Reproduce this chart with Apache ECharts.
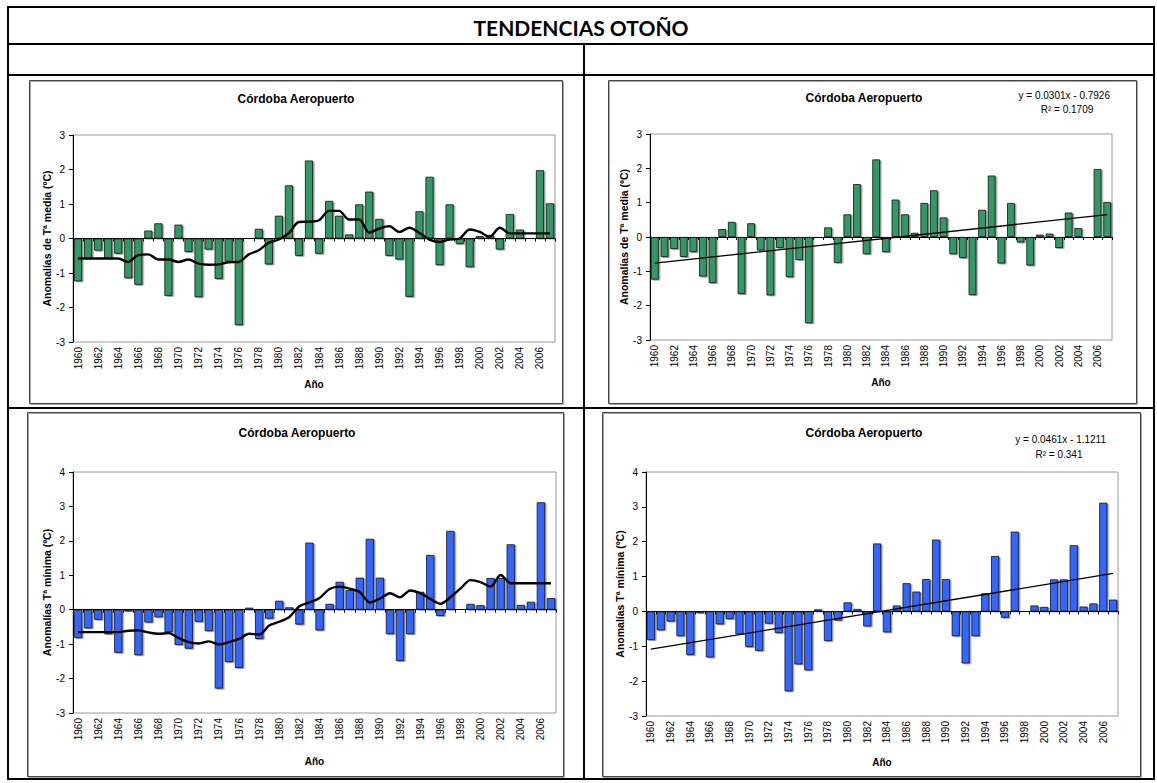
<!DOCTYPE html>
<html>
<head>
<meta charset="utf-8">
<title>Tendencias otoño</title>
<script src="https://cdn.jsdelivr.net/npm/echarts@6/dist/echarts.min.js"></script>
<style>
  html, body { margin: 0; padding: 0; background: #fff; }
  #chart { width: 1157px; height: 783px; }
</style>
</head>
<body>
<div id="chart"></div>
<script>
// años (categorías)
const years = ['1960','1961','1962','1963','1964','1965','1966','1967','1968','1969',
  '1970','1971','1972','1973','1974','1975','1976','1977','1978','1979',
  '1980','1981','1982','1983','1984','1985','1986','1987','1988','1989',
  '1990','1991','1992','1993','1994','1995','1996','1997','1998','1999',
  '2000','2001','2002','2003','2004','2005','2006','2007'];

// anomalías de Tª media (ºC)
const mediaAnom = [-1.24, -0.58, -0.35, -0.58, -0.44, -1.15, -1.34, 0.23, 0.44, -1.66,
  0.40, -0.39, -1.70, -0.32, -1.17, -0.67, -2.51, 0.02, 0.28, -0.75,
  0.66, 1.54, -0.50, 2.26, -0.44, 1.09, 0.66, 0.12, 0.99, 1.36,
  0.57, -0.50, -0.61, -1.69, 0.79, 1.79, -0.77, 0.99, -0.16, -0.83,
  0.07, 0.10, -0.32, 0.71, 0.26, 0.01, 1.98, 1.02];

// media móvil de Tª media
const mediaMovil = [-0.58, -0.58, -0.58, -0.58, -0.58, -0.68, -0.48, -0.46, -0.61, -0.61,
  -0.68, -0.61, -0.73, -0.76, -0.75, -0.69, -0.68, -0.46, -0.34, -0.12,
  -0.03, 0.16, 0.48, 0.49, 0.53, 0.80, 0.80, 0.55, 0.55, 0.17,
  0.29, 0.36, 0.19, 0.31, 0.16, -0.03, -0.10, -0.03, 0.00, 0.26,
  0.19, 0.05, 0.31, 0.15, 0.15, 0.15, 0.15, 0.15];

// anomalías de Tª mínima (ºC)
const minimaAnom = [-0.82, -0.54, -0.29, -0.71, -1.25, -0.05, -1.32, -0.37, -0.22, -0.65,
  -1.02, -1.13, -0.35, -0.62, -2.29, -1.52, -1.69, 0.06, -0.85, -0.26,
  0.26, 0.07, -0.43, 1.95, -0.60, 0.17, 0.81, 0.57, 0.93, 2.06,
  0.93, -0.71, -1.49, -0.71, 0.52, 1.59, -0.18, 2.29, 0.02, 0.17,
  0.13, 0.92, 0.92, 1.90, 0.14, 0.23, 3.12, 0.34];

// media móvil de Tª mínima
const minimaMovil = [-0.65, -0.65, -0.65, -0.65, -0.65, -0.61, -0.60, -0.66, -0.70, -0.68,
  -0.82, -0.94, -0.98, -0.92, -1.01, -0.94, -0.85, -0.70, -0.72, -0.46,
  -0.35, -0.21, 0.10, 0.21, 0.34, 0.60, 0.67, 0.61, 0.51, 0.21,
  0.32, 0.48, 0.36, 0.56, 0.48, 0.31, 0.17, 0.36, 0.61, 0.86,
  0.80, 0.67, 1.01, 0.77, 0.77, 0.77, 0.77, 0.77];

// extremos de las rectas de tendencia (1960, 2007)
const mediaTrend = [-0.76, 0.65];
const minimaTrend = [-1.08, 1.09];

const mediaEq = ['y = 0.0301x - 0.7926', 'R² = 0.1709'];
const minimaEq = ['y = 0.0461x - 1.1211', 'R² = 0.341'];

const FONT = '"Liberation Sans", Arial, sans-serif';
const GREEN = '#339966';
const BLUE = '#3366FF';

const chart = echarts.init(document.getElementById('chart'), null, { renderer: 'svg' });

// cada panel: grid + escala
const panels = [
  { grid: { left: 73, top: 135, width: 482, height: 207 }, yMin: -3, yMax: 3, yName: 'Anomalías de Tª media (ºC)', nameGapY: 20, nameGapX: 37 },
  { grid: { left: 650, top: 134, width: 462, height: 206 }, yMin: -3, yMax: 3, yName: 'Anomalías de Tª media (ºC)', nameGapY: 20, nameGapX: 37 },
  { grid: { left: 73, top: 472, width: 483, height: 241 }, yMin: -3, yMax: 4, yName: 'Anomalías Tª mínima (ºC)', nameGapY: 19, nameGapX: 43 },
  { grid: { left: 646, top: 472, width: 472, height: 244 }, yMin: -3, yMax: 4, yName: 'Anomalías Tª mínima (ºC)', nameGapY: 18, nameGapX: 41 }
];

const grids = panels.map(p => Object.assign({ show: true, borderColor: '#9a9a9a', borderWidth: 1, backgroundColor: '#fff' }, p.grid));

const xAxes = [];
const yAxes = [];
panels.forEach((p, i) => {
  // eje con etiquetas abajo
  xAxes.push({
    type: 'category', gridIndex: i, data: years, position: 'bottom',
    name: 'Año', nameLocation: 'middle', nameGap: p.nameGapX,
    nameTextStyle: { fontFamily: FONT, fontWeight: 'bold', fontSize: 10, color: '#000' },
    axisLine: { show: false, onZero: false },
    axisTick: { show: false },
    axisLabel: { rotate: 90, interval: 1, fontSize: 10, fontFamily: FONT, color: '#000', margin: 5 },
    splitLine: { show: false }
  });
  // eje en el cero
  xAxes.push({
    type: 'category', gridIndex: i, data: years, position: 'bottom',
    axisLine: { show: true, onZero: true, lineStyle: { color: '#000', width: 1 } },
    axisTick: { show: true, interval: 0, length: 3, lineStyle: { color: '#000' } },
    axisLabel: { show: false },
    splitLine: { show: false }
  });
  yAxes.push({
    type: 'value', gridIndex: i, min: p.yMin, max: p.yMax, interval: 1,
    name: p.yName, nameLocation: 'middle', nameGap: p.nameGapY,
    nameTextStyle: { fontFamily: FONT, fontWeight: 'bold', fontSize: 10.5, color: '#000' },
    axisLine: { show: true, lineStyle: { color: '#000', width: 1 } },
    axisTick: { show: true, length: 4, lineStyle: { color: '#000' } },
    axisLabel: { fontSize: 10, fontFamily: FONT, color: '#000', margin: 8 },
    splitLine: { show: false }
  });
});

const barStyle = color => ({
  color: color, borderColor: '#111', borderWidth: 0.8,
  shadowColor: 'rgba(0,0,0,0.4)', shadowOffsetX: 1.5, shadowOffsetY: 1, shadowBlur: 0
});

const trendLine = (ends) => ({
  silent: true, symbol: ['none', 'none'],
  label: { show: false },
  lineStyle: { color: '#000', width: 1.3, type: 'solid' },
  data: [[{ coord: [years[0], ends[0]] }, { coord: [years[years.length - 1], ends[1]] }]]
});

const series = [
  { type: 'bar', xAxisIndex: 0, yAxisIndex: 0, data: mediaAnom, barCategoryGap: '20%', itemStyle: barStyle(GREEN), silent: true },
  { type: 'line', xAxisIndex: 0, yAxisIndex: 0, data: mediaMovil, smooth: 0.3, symbol: 'none', lineStyle: { color: '#000', width: 2.4 }, silent: true, z: 5 },
  { type: 'bar', xAxisIndex: 2, yAxisIndex: 1, data: mediaAnom, barCategoryGap: '20%', itemStyle: barStyle(GREEN), silent: true, markLine: trendLine(mediaTrend) },
  { type: 'bar', xAxisIndex: 4, yAxisIndex: 2, data: minimaAnom, barCategoryGap: '18%', itemStyle: barStyle(BLUE), silent: true },
  { type: 'line', xAxisIndex: 4, yAxisIndex: 2, data: minimaMovil, smooth: 0.3, symbol: 'none', lineStyle: { color: '#000', width: 2.4 }, silent: true, z: 5 },
  { type: 'bar', xAxisIndex: 6, yAxisIndex: 3, data: minimaAnom, barCategoryGap: '18%', itemStyle: barStyle(BLUE), silent: true, markLine: trendLine(minimaTrend) }
];

// tabla y marcos
const frame = (x, y, w, h) => ({
  type: 'rect', shape: { x: x, y: y, width: w, height: h },
  style: { fill: 'none', stroke: '#444', lineWidth: 1, shadowColor: 'rgba(0,0,0,0.35)', shadowOffsetX: 1, shadowOffsetY: 1 },
  silent: true, z: -1
});
const hline = (y, x1, x2) => ({ type: 'line', shape: { x1: x1, y1: y, x2: x2, y2: y }, style: { stroke: '#000', lineWidth: 2 }, silent: true });
const vline = (x, y1, y2) => ({ type: 'line', shape: { x1: x, y1: y1, x2: x, y2: y2 }, style: { stroke: '#000', lineWidth: 2 }, silent: true });
const txt = (s, x, y, font, align) => ({
  type: 'text', x: x, y: y, silent: true,
  style: { text: s, font: font, fill: '#000', textAlign: align || 'center', textVerticalAlign: 'middle' }
});

const graphic = [
  { type: 'rect', shape: { x: 8, y: 7, width: 1146, height: 772 }, style: { fill: 'none', stroke: '#000', lineWidth: 2 }, silent: true },
  hline(44, 8, 1154),
  hline(75, 8, 1154),
  hline(408, 8, 1154),
  vline(584, 44, 779),
  frame(29.5, 80.5, 533, 323),
  frame(608.5, 80.5, 528, 323),
  frame(27.5, 412.5, 536, 364),
  frame(602.5, 412.5, 538, 364),
  txt('TENDENCIAS OTOÑO', 581, 27, 'bold 21px Lato, "Open Sans", sans-serif'),
  txt('Córdoba Aeropuerto', 296, 99, 'bold 12px ' + FONT),
  txt('Córdoba Aeropuerto', 864, 98, 'bold 12px ' + FONT),
  txt('Córdoba Aeropuerto', 297, 433, 'bold 12px ' + FONT),
  txt('Córdoba Aeropuerto', 864, 433, 'bold 12px ' + FONT),
  txt(mediaEq[0], 1110, 95, '10px ' + FONT, 'right'),
  txt(mediaEq[1], 1067, 109, '10px ' + FONT),
  txt(minimaEq[0], 1106, 439, '10px ' + FONT, 'right'),
  txt(minimaEq[1], 1059, 454, '10px ' + FONT)
];

chart.setOption({
  animation: false,
  grid: grids,
  xAxis: xAxes,
  yAxis: yAxes,
  series: series,
  graphic: graphic
});
</script>
</body>
</html>
